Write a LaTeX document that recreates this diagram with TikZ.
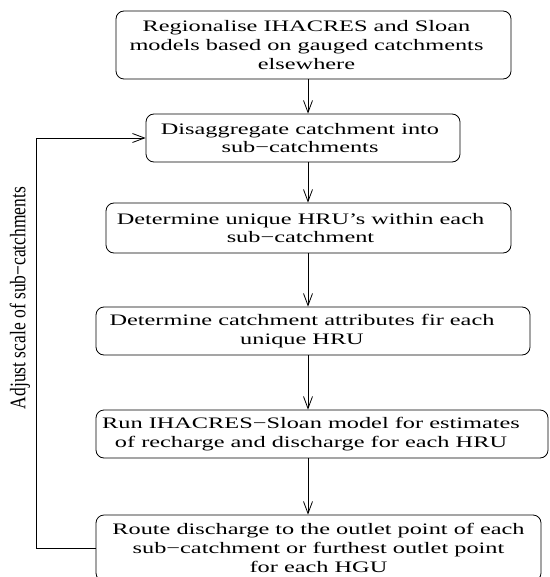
\documentclass[tikz,border=0pt]{standalone}
\usepackage{fontspec}
\setmainfont{Liberation Serif}[FakeStretch=1.52]
\newfontfamily\sidefont{Liberation Serif}
\usetikzlibrary{arrows.meta}

\begin{document}
\begin{tikzpicture}[x=1pt,y=-1pt,line width=0.8pt,
  stagebox/.style={draw,rounded corners=8pt,inner sep=0pt},
  stagetext/.style={align=center,inner sep=0pt,font=\fontsize{16}{18.7}\selectfont},
  flow/.style={-{Straight Barb[length=12pt,width=9pt]}}]
\useasboundingbox (0,0) rectangle (549,577);
\coordinate (spine) at (308,0);
\coordinate (loopx) at (36,0);
% the stages, top to bottom
\node[stagebox,minimum width=395pt,minimum height=68pt,
  label={[stagetext,xshift=-7pt]center:Regionalise IHACRES and Sloan\\models based on gauged catchments\\elsewhere}]
  (regional) at (313.5,45) {};
\node[stagebox,minimum width=314pt,minimum height=48pt,
  label={[stagetext,xshift=-3pt]center:Disaggregate catchment into\\sub−catchments}]
  (disagg) at (303,138) {};
\node[stagebox,minimum width=405pt,minimum height=50pt,
  label={[stagetext,xshift=-8pt]center:Determine unique HRU's within each\\sub−catchment}]
  (hru) at (308.5,228) {};
\node[stagebox,minimum width=434pt,minimum height=48pt,
  label={[stagetext,xshift=-11pt]center:Determine catchment attributes fir each\\unique HRU}]
  (attrib) at (313,331) {};
\node[stagebox,minimum width=452pt,minimum height=48pt,
  label={[stagetext,xshift=-11pt]center:Run IHACRES−Sloan model for estimates\\of recharge and discharge for each HRU}]
  (runmodel) at (322,434) {};
\node[stagebox,minimum width=445pt,minimum height=66pt,
  label={[stagetext]center:Route discharge to the outlet point of each\\sub−catchment or furthest outlet point\\for each HGU}]
  (route) at (318.5,548) {};
\node[rotate=90,yscale=1.27,font=\sidefont\fontsize{17.5}{18}\selectfont] (adjust) at (20,298)
  {Adjust scale of sub−catchments};
% arrows down the spine
\draw[flow] (regional.south -| spine) -- (disagg.north -| spine);
\draw[flow] (disagg.south -| spine) -- (hru.north -| spine);
\draw[flow] (hru.south -| spine) -- (attrib.north -| spine);
\draw[flow] (attrib.south -| spine) -- (runmodel.north -| spine);
\draw[flow] (runmodel.south -| spine) -- (route.north -| spine);
% feedback loop
\draw[flow] (route.west) -- (route.west -| loopx) -- (disagg.west -| loopx) -- (disagg.west);
\end{tikzpicture}
\end{document}
